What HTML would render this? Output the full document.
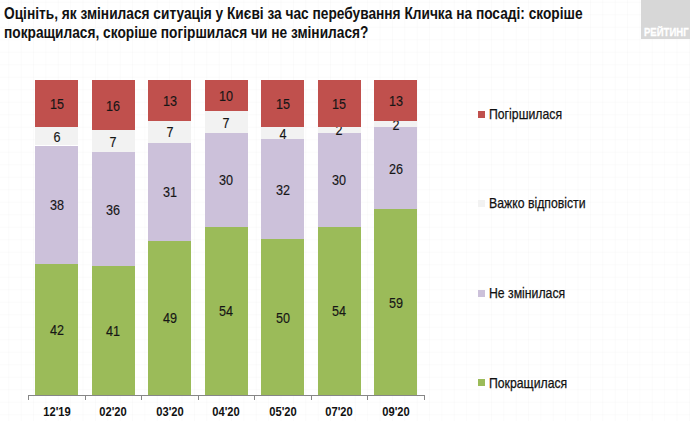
<!DOCTYPE html>
<html><head><meta charset="utf-8"><style>
html,body{margin:0;padding:0;}
body{width:690px;height:421px;position:relative;overflow:hidden;background:#fff;font-family:"Liberation Sans",sans-serif;color:#000;}
.grid{position:absolute;left:0;top:0;width:690px;height:421px;
background-image:linear-gradient(to right, rgba(0,0,0,0.016) 1px, transparent 1px),linear-gradient(to bottom, rgba(0,0,0,0.016) 1px, transparent 1px);
background-size:12.39px 12.5px;background-position:8.3px 1.7px;}
.title{position:absolute;left:4px;top:3.5px;font-weight:bold;font-size:16.5px;line-height:19px;white-space:nowrap;transform:scaleX(0.831);transform-origin:0 0;color:#111;}
.seg{position:absolute;}
.lbl{position:absolute;width:80px;text-align:center;font-size:14.5px;line-height:20px;transform:scaleX(0.87);color:#161616;-webkit-text-stroke:0.15px #161616;}
.xl{position:absolute;top:403.5px;width:80px;text-align:center;font-size:13px;font-weight:bold;line-height:16px;transform:scaleX(0.857);color:#111;}
.axis{position:absolute;left:28px;top:395px;width:396px;height:1px;background:#868686;}
.tick{position:absolute;top:395px;width:1px;height:5px;background:#868686;}
.lsq{position:absolute;left:478px;width:7px;height:7px;}
.ltx{position:absolute;left:489px;font-size:14.5px;line-height:20px;white-space:nowrap;transform:scaleX(0.845);transform-origin:0 0;color:#111;-webkit-text-stroke:0.25px #111;}
.logo{position:absolute;left:641px;top:0;width:49px;height:39px;background:#D7D7D7;}
.logo span{position:absolute;left:3px;top:26px;font-size:11.5px;font-weight:bold;line-height:13px;color:#fff;white-space:nowrap;transform:scaleX(0.83);-webkit-text-stroke:0.3px #fff;transform-origin:0 0;}
</style></head><body>
<div class="grid"></div>
<div class="title">Оцініть, як змінилася ситуація у Києві за час перебування Кличка на посаді: скоріше<br>покращилася, скоріше погіршилася чи не змінилася?</div>
<div class="logo"><span>РЕЙТИНГ</span></div>
<div class="seg" style="left:35.0px;top:264.01px;width:43px;height:130.99px;background:#9BBB59"></div><div class="lbl" style="left:16.5px;top:320.00px">42</div><div class="seg" style="left:35.0px;top:145.50px;width:43px;height:118.51px;background:#CCC1DA"></div><div class="lbl" style="left:16.5px;top:195.25px">38</div><div class="seg" style="left:35.0px;top:126.78px;width:43px;height:18.71px;background:#F2F2F2"></div><div class="lbl" style="left:16.5px;top:126.64px">6</div><div class="seg" style="left:35.0px;top:80.00px;width:43px;height:46.78px;background:#C0504D"></div><div class="lbl" style="left:16.5px;top:93.89px">15</div><div class="xl" style="left:16.5px">12'19</div><div class="seg" style="left:91.5px;top:265.85px;width:43px;height:129.15px;background:#9BBB59"></div><div class="lbl" style="left:73.0px;top:320.93px">41</div><div class="seg" style="left:91.5px;top:152.45px;width:43px;height:113.40px;background:#CCC1DA"></div><div class="lbl" style="left:73.0px;top:199.65px">36</div><div class="seg" style="left:91.5px;top:130.40px;width:43px;height:22.05px;background:#F2F2F2"></div><div class="lbl" style="left:73.0px;top:131.93px">7</div><div class="seg" style="left:91.5px;top:80.00px;width:43px;height:50.40px;background:#C0504D"></div><div class="lbl" style="left:73.0px;top:95.70px">16</div><div class="xl" style="left:73.0px">02'20</div><div class="seg" style="left:148.0px;top:240.65px;width:43px;height:154.35px;background:#9BBB59"></div><div class="lbl" style="left:129.5px;top:308.32px">49</div><div class="seg" style="left:148.0px;top:143.00px;width:43px;height:97.65px;background:#CCC1DA"></div><div class="lbl" style="left:129.5px;top:182.32px">31</div><div class="seg" style="left:148.0px;top:120.95px;width:43px;height:22.05px;background:#F2F2F2"></div><div class="lbl" style="left:129.5px;top:122.47px">7</div><div class="seg" style="left:148.0px;top:80.00px;width:43px;height:40.95px;background:#C0504D"></div><div class="lbl" style="left:129.5px;top:90.97px">13</div><div class="xl" style="left:129.5px">03'20</div><div class="seg" style="left:204.5px;top:226.58px;width:43px;height:168.42px;background:#9BBB59"></div><div class="lbl" style="left:186.0px;top:301.29px">54</div><div class="seg" style="left:204.5px;top:133.02px;width:43px;height:93.56px;background:#CCC1DA"></div><div class="lbl" style="left:186.0px;top:170.30px">30</div><div class="seg" style="left:204.5px;top:111.19px;width:43px;height:21.83px;background:#F2F2F2"></div><div class="lbl" style="left:186.0px;top:112.60px">7</div><div class="seg" style="left:204.5px;top:80.00px;width:43px;height:31.19px;background:#C0504D"></div><div class="lbl" style="left:186.0px;top:86.09px">10</div><div class="xl" style="left:186.0px">04'20</div><div class="seg" style="left:261.0px;top:239.06px;width:43px;height:155.94px;background:#9BBB59"></div><div class="lbl" style="left:242.5px;top:307.53px">50</div><div class="seg" style="left:261.0px;top:139.26px;width:43px;height:99.80px;background:#CCC1DA"></div><div class="lbl" style="left:242.5px;top:179.66px">32</div><div class="seg" style="left:261.0px;top:126.78px;width:43px;height:12.48px;background:#F2F2F2"></div><div class="lbl" style="left:242.5px;top:123.52px">4</div><div class="seg" style="left:261.0px;top:80.00px;width:43px;height:46.78px;background:#C0504D"></div><div class="lbl" style="left:242.5px;top:93.89px">15</div><div class="xl" style="left:242.5px">05'20</div><div class="seg" style="left:317.5px;top:226.58px;width:43px;height:168.42px;background:#9BBB59"></div><div class="lbl" style="left:299.0px;top:301.29px">54</div><div class="seg" style="left:317.5px;top:133.02px;width:43px;height:93.56px;background:#CCC1DA"></div><div class="lbl" style="left:299.0px;top:170.30px">30</div><div class="seg" style="left:317.5px;top:126.78px;width:43px;height:6.24px;background:#F2F2F2"></div><div class="lbl" style="left:299.0px;top:120.40px">2</div><div class="seg" style="left:317.5px;top:80.00px;width:43px;height:46.78px;background:#C0504D"></div><div class="lbl" style="left:299.0px;top:93.89px">15</div><div class="xl" style="left:299.0px">07'20</div><div class="seg" style="left:374.0px;top:209.15px;width:43px;height:185.85px;background:#9BBB59"></div><div class="lbl" style="left:355.5px;top:292.57px">59</div><div class="seg" style="left:374.0px;top:127.25px;width:43px;height:81.90px;background:#CCC1DA"></div><div class="lbl" style="left:355.5px;top:158.70px">26</div><div class="seg" style="left:374.0px;top:120.95px;width:43px;height:6.30px;background:#F2F2F2"></div><div class="lbl" style="left:355.5px;top:114.60px">2</div><div class="seg" style="left:374.0px;top:80.00px;width:43px;height:40.95px;background:#C0504D"></div><div class="lbl" style="left:355.5px;top:90.97px">13</div><div class="xl" style="left:355.5px">09'20</div>
<div class="axis"></div>
<div class="tick" style="left:28.0px"></div><div class="tick" style="left:84.5px"></div><div class="tick" style="left:141.0px"></div><div class="tick" style="left:197.5px"></div><div class="tick" style="left:254.0px"></div><div class="tick" style="left:310.5px"></div><div class="tick" style="left:367.0px"></div><div class="tick" style="left:423.5px"></div>
<div class="lsq" style="top:110.5px;background:#C0504D"></div><div class="ltx" style="top:104.3px">Погіршилася</div><div class="lsq" style="top:199.5px;background:#F2F2F2"></div><div class="ltx" style="top:193.3px">Важко відповісти</div><div class="lsq" style="top:289.5px;background:#CCC1DA"></div><div class="ltx" style="top:283.3px">Не змінилася</div><div class="lsq" style="top:379.0px;background:#9BBB59"></div><div class="ltx" style="top:372.8px">Покращилася</div>
</body></html>
